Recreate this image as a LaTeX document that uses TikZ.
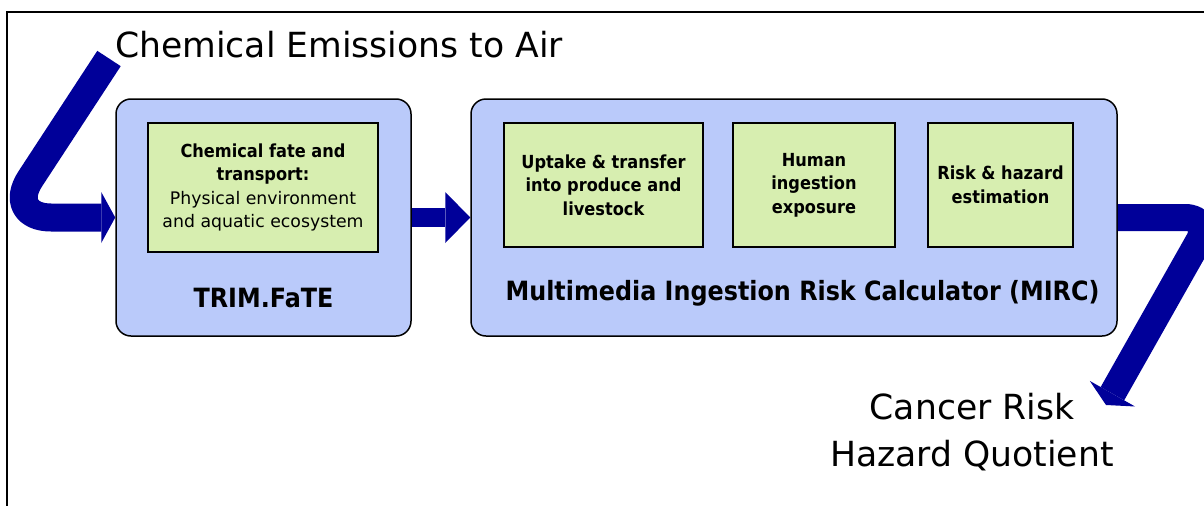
\documentclass[tikz,border=0pt]{standalone}
\usepackage{fontspec}
\setmainfont{DejaVu Sans}
\newfontfamily\bfx{DejaVu Sans}[FakeStretch=0.9]
\usetikzlibrary{arrows.meta}
\definecolor{boxblue}{RGB}{186,202,250}
\definecolor{boxgreen}{RGB}{215,238,176}
\definecolor{arrowblue}{RGB}{0,0,153}
\begin{document}
\begin{tikzpicture}[x=1pt,y=-1pt,
  outerbox/.style={draw=black, line width=1.5pt, fill=boxblue, rounded corners=15pt,
    minimum height=237pt, inner sep=0pt},
  innerbox/.style={draw=black, line width=1.6pt, fill=boxgreen, minimum height=124pt,
    inner sep=0pt, align=center, font=\bfx\bfseries\fontsize{18}{23.5}\selectfont},
  boxlabel/.style={anchor=base, inner sep=0pt, font=\bfx\bfseries\fontsize{26.5}{32}\selectfont},
  bigtext/.style={inner sep=0pt, font=\fontsize{34.6}{47}\selectfont},
  flow/.style={draw=arrowblue, line width=#1, line cap=butt, line join=round},
  frameline/.style={draw=black, line width=2pt}
]
\useasboundingbox (0,0) rectangle (1204,506);
\draw[frameline] (1204,12) -- (7,12) -- (7,506);

% outer boxes
\node[outerbox, minimum width=295pt] (trim) at (263.5,217.5) {};
\node[outerbox, minimum width=646pt] (mirc) at (794,217.5) {};

% inner boxes
\node[innerbox, minimum width=230pt, minimum height=129pt] (fate) at (263,187.5)
  {Chemical fate and\\transport:\\{\normalfont\fontsize{17.3}{23.5}\selectfont Physical environment}\\{\normalfont\fontsize{17.3}{23.5}\selectfont and aquatic ecosystem}};
\node[innerbox, minimum width=199pt] (uptake) at (603.5,185)
  {Uptake \& transfer\\into produce and\\livestock};
\node[innerbox, minimum width=162pt] (human) at (814,185)
  {Human\\ingestion\\exposure};
\node[innerbox, minimum width=145pt] (risk) at (1000.5,185)
  {Risk \& hazard\\estimation};

% labels
\node[boxlabel] (trimlabel) at (263.5,307) {TRIM.FaTE};
\node[boxlabel] (mirclabel) at (802.5,300) {Multimedia Ingestion Risk Calculator (MIRC)};
\node[bigtext, anchor=base west] (title) at (115,57) {Chemical Emissions to Air};
\node[bigtext, anchor=base, align=center] (result) at (972,466) {Cancer Risk\\Hazard Quotient};

% arrows
\coordinate (lstart) at (109,58.5);
\coordinate (lbend) at (5,217.5);
\coordinate (rbend) at (1212,217.5);
\coordinate (rend) at (1106,405);

\draw[flow=28pt, rounded corners=46pt,
  -{Triangle[length=14pt 0 0, width=51pt 0 0, line width=0pt 0 0]}]
  (lstart) -- (lbend) -- (trim.west);
\draw[flow=19pt,
  -{Triangle[length=25pt 0 0, width=51pt 0 0, line width=0pt 0 0]}]
  (trim.east) -- (mirc.west);
\draw[flow=27pt, rounded corners=27pt,
  -{Triangle[length=13pt 0 0, width=52pt 0 0, line width=0pt 0 0]}]
  (mirc.east) -- (rbend) -- (rend);
\end{tikzpicture}
\end{document}
